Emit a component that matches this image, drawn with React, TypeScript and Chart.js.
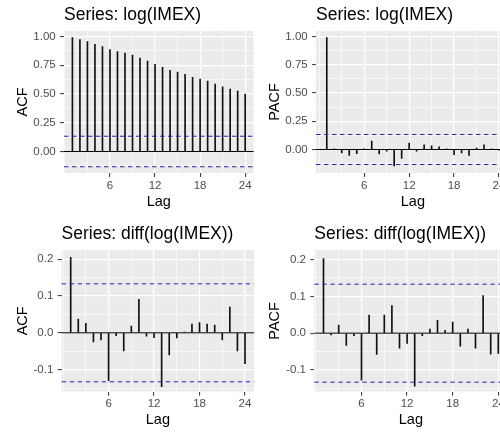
import React, { useEffect, useRef } from 'react';
import { Chart, registerables } from 'chart.js';

Chart.register(...registerables);

// ---------- data ----------
const lags = [1, 2, 3, 4, 5, 6, 7, 8, 9, 10, 11, 12, 13, 14, 15, 16, 17, 18, 19, 20, 21, 22, 23, 24];

const acfLog = [0.991, 0.974, 0.957, 0.933, 0.913, 0.887, 0.870, 0.855, 0.838, 0.812, 0.786, 0.759,
  0.733, 0.707, 0.690, 0.672, 0.646, 0.629, 0.612, 0.586, 0.562, 0.542, 0.525, 0.499];

const pacfLog = [0.991, 0.002, -0.030, -0.052, -0.037, 0.003, 0.075, -0.038, -0.015, -0.145, -0.079, 0.057,
  -0.015, 0.042, 0.033, 0.023, 0.004, -0.046, -0.030, -0.052, 0.013, 0.042, 0.003, -0.005];

const acfDiff = [0.205, 0.037, 0.026, -0.025, -0.019, -0.130, -0.008, -0.049, 0.018, 0.091, -0.009, -0.013,
  -0.146, -0.060, -0.014, 0.002, 0.024, 0.028, 0.024, 0.021, -0.019, 0.070, -0.049, -0.084];

const pacfDiff = [0.203, -0.005, 0.022, -0.033, -0.007, -0.128, 0.049, -0.058, 0.049, 0.075, -0.041, -0.028,
  -0.144, -0.007, 0.011, 0.035, 0.008, 0.030, -0.035, 0.011, -0.041, 0.102, -0.057, -0.055];

const ciLog = 0.1327;
const ciDiff = 0.1331;

const xTicks = [0, 3, 6, 9, 12, 15, 18, 21, 24];
const xMajor = [6, 12, 18, 24];

const yTicksLog = [-0.125, 0, 0.125, 0.25, 0.375, 0.5, 0.625, 0.75, 0.875, 1];
const yMajorLog = [0, 0.25, 0.5, 0.75, 1];

const yTicksDiff = [-0.15, -0.1, -0.05, 0, 0.05, 0.1, 0.15, 0.2];
const yMajorDiff = [-0.1, 0, 0.1, 0.2];

// ---------- style ----------
const FONT = "'Liberation Sans', Arial, sans-serif";
const TITLE_SIZE = 17.5;
const AXIS_TITLE_SIZE = 14.5;
const TICK_SIZE = 11.5;

const isIn = (v: number, arr: number[]) => arr.some((m) => Math.abs(m - v) < 1e-9);

type PanelProps = {
  left: number; top: number; width: number; height: number;
  plotL: number; plotR: number; plotT: number; plotB: number;
  titleBaseline: number; yTitleCenter: number;
  xMin: number; xMax: number; yMin: number; yMax: number;
  values: number[]; ci: number;
  title: string; yTitle: string;
  yTicks: number[]; yMajor: number[]; yDigits: number;
};

function Panel(p: PanelProps) {
  const ref = useRef<HTMLCanvasElement | null>(null);
  useEffect(() => {
    if (!ref.current) return;
    const titleLH = TITLE_SIZE * 1.2;
    const titleMiddle = p.titleBaseline - 0.3465 * TITLE_SIZE;
    const tPadTop = titleMiddle - titleLH / 2;
    const tPadBottom = p.plotT - tPadTop - titleLH;

    const panelPlugin = {
      id: 'acfPanel',
      beforeDraw(chart: any) {
        const { ctx, chartArea: a } = chart;
        ctx.save();
        ctx.fillStyle = '#EBEBEB';
        ctx.fillRect(a.left, a.top, a.right - a.left, a.bottom - a.top);
        ctx.restore();
      },
      beforeDatasetsDraw(chart: any) {
        const { ctx, chartArea: a, scales } = chart;
        const y0 = scales.y.getPixelForValue(0);
        ctx.save();
        ctx.strokeStyle = '#000000';
        ctx.lineWidth = 1;
        ctx.beginPath();
        ctx.moveTo(a.left, y0);
        ctx.lineTo(a.right, y0);
        ctx.stroke();
        ctx.restore();
      },
      afterDatasetsDraw(chart: any) {
        const { ctx, chartArea: a, scales } = chart;
        ctx.save();
        ctx.strokeStyle = '#2323b4';
        ctx.lineWidth = 1;
        ctx.setLineDash([4.5, 3.5]);
        [p.ci, -p.ci].forEach((v) => {
          const y = scales.y.getPixelForValue(v);
          ctx.beginPath();
          ctx.moveTo(a.left, y);
          ctx.lineTo(a.right, y);
          ctx.stroke();
        });
        ctx.restore();
      },
    };

    const chart = new Chart(ref.current, {
      type: 'bar',
      data: {
        datasets: [{
          data: lags.map((l, i) => ({ x: l, y: p.values[i] })) as any,
          backgroundColor: '#111111',
          borderWidth: 0,
          barThickness: 1,
        }],
      },
      options: {
        responsive: false,
        animation: false,
        devicePixelRatio: 1,
        layout: { autoPadding: false, padding: { left: 0, top: 0, bottom: 0, right: p.width - p.plotR } },
        plugins: {
          legend: { display: false },
          tooltip: { enabled: false },
          title: {
            display: true,
            text: p.title,
            align: 'start',
            fullSize: false,
            color: '#000000',
            font: { family: FONT, size: TITLE_SIZE, weight: 'normal' },
            padding: { top: tPadTop, bottom: tPadBottom },
          },
        },
        scales: {
          x: {
            type: 'linear',
            min: p.xMin,
            max: p.xMax,
            offset: false,
            border: { display: false },
            grid: {
              offset: false,
              color: '#FFFFFF',
              lineWidth: (c: any) => (c.tick && isIn(c.tick.value, xMajor) ? 1.2 : 0.6),
              drawTicks: true,
              tickLength: 4,
              tickWidth: 1,
              tickColor: (c: any) => (c.tick && isIn(c.tick.value, xMajor) ? '#333333' : 'rgba(0,0,0,0)'),
            },
            ticks: {
              autoSkip: false,
              maxRotation: 0,
              padding: 1.6,
              color: '#4D4D4D',
              font: { family: FONT, size: TICK_SIZE },
              callback: (v: any) => (isIn(Number(v), xMajor) ? String(v) : ''),
            },
            title: {
              display: true,
              text: 'Lag',
              color: '#000000',
              font: { family: FONT, size: AXIS_TITLE_SIZE },
              padding: { top: 0, bottom: 15.9 - AXIS_TITLE_SIZE * 0.6 },
            },
            afterBuildTicks: (s: any) => {
              s.ticks = xTicks.filter((v) => v >= p.xMin && v <= p.xMax).map((v) => ({ value: v }));
            },
            afterFit: (s: any) => {
              s.height = p.height - p.plotB;
            },
          } as any,
          y: {
            type: 'linear',
            min: p.yMin,
            max: p.yMax,
            border: { display: false },
            grid: {
              color: '#FFFFFF',
              lineWidth: (c: any) => (c.tick && isIn(c.tick.value, p.yMajor) ? 1.2 : 0.6),
              drawTicks: true,
              tickLength: 4,
              tickWidth: 1,
              tickColor: (c: any) => (c.tick && isIn(c.tick.value, p.yMajor) ? '#333333' : 'rgba(0,0,0,0)'),
            },
            ticks: {
              autoSkip: false,
              padding: 4.3,
              color: '#4D4D4D',
              font: { family: FONT, size: TICK_SIZE },
              callback: (v: any) => (isIn(Number(v), p.yMajor) ? Number(v).toFixed(p.yDigits) : ''),
            },
            title: {
              display: true,
              text: p.yTitle,
              color: '#000000',
              font: { family: FONT, size: AXIS_TITLE_SIZE },
              padding: { top: p.yTitleCenter - AXIS_TITLE_SIZE * 0.6, bottom: 0 },
            },
            afterBuildTicks: (s: any) => {
              s.ticks = p.yTicks.filter((v) => v >= p.yMin && v <= p.yMax).map((v) => ({ value: v }));
            },
            afterFit: (s: any) => {
              s.width = p.plotL;
            },
          } as any,
        },
      } as any,
      plugins: [panelPlugin],
    });
    return () => chart.destroy();
  }, []);

  return (
    <canvas
      ref={ref}
      width={p.width}
      height={p.height}
      style={{ position: 'absolute', left: p.left, top: p.top, width: p.width, height: p.height }}
    />
  );
}

export default function App() {
  return (
    <div style={{ position: 'fixed', left: 0, top: 0, width: 500, height: 436, overflow: 'hidden', background: '#FFFFFF' }}>
      <Panel left={0} top={0} width={262} height={218}
        plotL={64} plotR={253.6} plotT={31} plotB={173}
        titleBaseline={21.7} yTitleCenter={22.5}
        xMin={-0.12} xMax={25.12} yMin={-0.187} yMax={1.048}
        values={acfLog} ci={ciLog} title="Series: log(IMEX)" yTitle="ACF"
        yTicks={yTicksLog} yMajor={yMajorLog} yDigits={2} />
      <Panel left={252} top={0} width={262} height={218}
        plotL={64} plotR={257.8} plotT={31} plotB={173}
        titleBaseline={21.7} yTitleCenter={23}
        xMin={-0.44} xMax={25.44} yMin={-0.208} yMax={1.049}
        values={pacfLog} ci={ciLog} title="Series: log(IMEX)" yTitle="PACF"
        yTicks={yTicksLog} yMajor={yMajorLog} yDigits={2} />
      <Panel left={0} top={218} width={262} height={218}
        plotL={61.6} plotR={254.1} plotT={32} plotB={173.7}
        titleBaseline={22} yTitleCenter={22.5}
        xMin={-0.2} xMax={25.2} yMin={-0.16} yMax={0.225}
        values={acfDiff} ci={ciDiff} title="Series: diff(log(IMEX))" yTitle="ACF"
        yTicks={yTicksDiff} yMajor={yMajorDiff} yDigits={1} />
      <Panel left={252} top={218} width={262} height={218}
        plotL={62.3} plotR={255.5} plotT={32} plotB={173.7}
        titleBaseline={22} yTitleCenter={23}
        xMin={-0.21} xMax={25.21} yMin={-0.159} yMax={0.226}
        values={pacfDiff} ci={ciDiff} title="Series: diff(log(IMEX))" yTitle="PACF"
        yTicks={yTicksDiff} yMajor={yMajorDiff} yDigits={1} />
    </div>
  );
}
